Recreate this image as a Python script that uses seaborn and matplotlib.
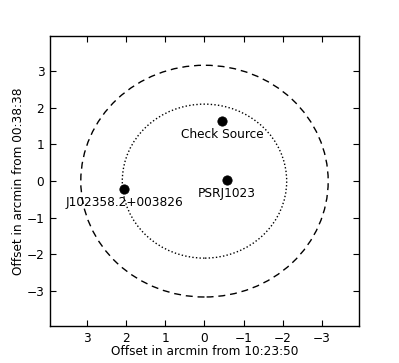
import numpy as np
import matplotlib
matplotlib.use("Agg")
import matplotlib.pyplot as plt
from matplotlib.patches import Circle
import seaborn as sns
import pandas as pd

# source positions (arcmin offsets)
names = ["Check Source", "PSRJ1023", "J102358.2+003826"]
x_off = [-0.45, -0.57, 2.05]
y_off = [1.65, 0.03, -0.22]
# circle radii (arcmin)
radii = [3.16, 2.1]
styles = [(0, (5, 3.5)), (0, (1, 1.6))]

sns.set_style("ticks")
plt.rcParams["font.family"] = ["DejaVu Sans"]
fs = 8.7
plt.rcParams.update({"text.color": "black", "axes.labelcolor": "black",
                     "xtick.color": "black", "ytick.color": "black",
                     "axes.edgecolor": "black"})

fig = plt.figure(figsize=(3.99, 3.63), dpi=100)
ax = fig.add_axes([0.125, 0.102, 0.775, 0.798])

df = pd.DataFrame({"x": x_off, "y": y_off, "name": names})
sns.scatterplot(data=df, x="x", y="y", color="black", s=45, edgecolor="black", ax=ax, zorder=3)

for r, ls in zip(radii, styles):
    ax.add_patch(Circle((0, 0), r, fill=False, linestyle=ls, color="black", lw=1.0))

for n, x, y in zip(names, x_off, y_off):
    ax.annotate(n, (x, y), xytext=(0, -5), textcoords="offset points",
                ha="center", va="top", fontsize=fs)

ax.set_xlim(3.95, -3.95)
ax.set_ylim(-3.95, 3.95)
ax.set_xticks([3, 2, 1, 0, -1, -2, -3])
ax.set_yticks([-3, -2, -1, 0, 1, 2, 3])
ax.tick_params(direction="in", top=True, right=True, labelsize=fs, length=4, width=0.8, pad=4)
for s in ax.spines.values():
    s.set_visible(True)
    s.set_linewidth(1.0)
ax.set_xlabel("Offset in arcmin from 10:23:50", fontsize=fs, labelpad=0)
ax.set_ylabel("Offset in arcmin from 00:38:38", fontsize=fs, labelpad=1)

fig.savefig("out.png", dpi=100)
